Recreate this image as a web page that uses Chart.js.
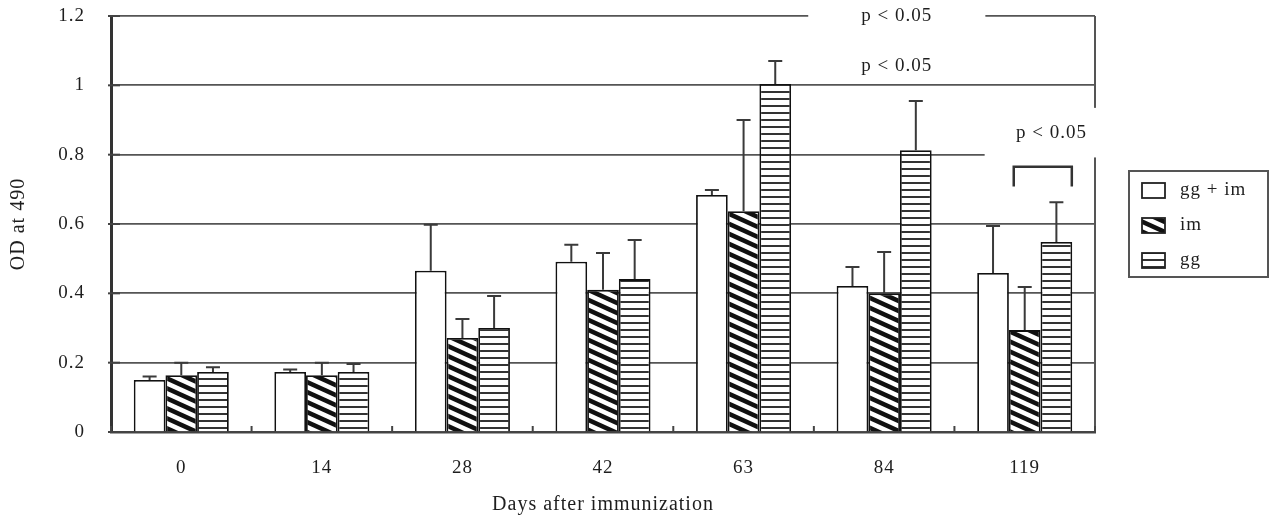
<!DOCTYPE html>
<html>
<head>
<meta charset="utf-8">
<script src="https://cdn.jsdelivr.net/npm/chart.js@4.4.1/dist/chart.umd.min.js"></script>
<style>
  html, body { margin: 0; padding: 0; background: #fff; }
</style>
</head>
<body>
<canvas id="odChart" width="1270" height="519"></canvas>
<script>
// data
const days = ["0", "14", "28", "42", "63", "84", "119"];
const seriesNames = ["gg + im", "im", "gg"];

const ggIm   = [0.150, 0.173, 0.465, 0.491, 0.684, 0.421, 0.459];
const ggImSd = [0.010, 0.007, 0.133, 0.049, 0.014, 0.055, 0.135];
const im     = [0.164, 0.164, 0.271, 0.410, 0.637, 0.400, 0.294];
const imSd   = [0.036, 0.036, 0.055, 0.106, 0.263, 0.119, 0.124];
const gg     = [0.173, 0.173, 0.300, 0.441, 1.004, 0.813, 0.548];
const ggSd   = [0.014, 0.023, 0.092, 0.113, 0.066, 0.142, 0.115];

const yTickLabels = ["0", "0.2", "0.4", "0.6", "0.8", "1", "1.2"];
const sigText = "p < 0.05";

const FONT = "'Liberation Serif', 'Times New Roman', serif";
const INK = "#1e1e1e";

// fill patterns
function hatch() {
  const c = document.createElement("canvas");
  c.width = 22; c.height = 10;
  const g = c.getContext("2d");
  g.fillStyle = "#fff";
  g.fillRect(0, 0, 22, 10);
  g.fillStyle = "#111";
  for (const dy of [-10, 0, 10]) {
    g.beginPath();
    g.moveTo(0, dy);
    g.lineTo(22, dy + 10);
    g.lineTo(22, dy + 15);
    g.lineTo(0, dy + 5);
    g.closePath();
    g.fill();
  }
  return g.createPattern(c, "repeat");
}

function hlines() {
  const c = document.createElement("canvas");
  c.width = 4; c.height = 7;
  const g = c.getContext("2d");
  g.fillStyle = "#fff";
  g.fillRect(0, 0, 4, 7);
  g.fillStyle = "#333";
  g.fillRect(0, 0, 4, 2);
  return g.createPattern(c, "repeat");
}

const fills = ["#fff", hatch(), hlines()];

// significance marks, placed by category index + fraction of category width
const notes = [
  { cat: 5, dx: 0.09, y: 1.2,   box: { w: 1.26, lo: 1.16, hi: 1.26 } },
  { cat: 5, dx: 0.09, y: 1.056, box: null },
  { cat: 6, dx: 0.19, y: 0.862, box: { w: 0.93, lo: 0.792, hi: 0.935, dx: 0.18 } }
];
const bracket = { cat: 6, from: -0.078, to: 0.335, top: 0.765, leg: 0.708 };

const spacing = {
  id: "spacing",
  beforeDraw(chart) { chart.ctx.letterSpacing = "1px"; }
};

const frame = {
  id: "frame",
  beforeDatasetsDraw(chart) {
    const { ctx, chartArea: a } = chart;
    ctx.save();
    ctx.strokeStyle = "#555";
    ctx.lineWidth = 2;
    ctx.beginPath();
    ctx.moveTo(a.right, a.top);
    ctx.lineTo(a.right, a.bottom);
    ctx.stroke();
    ctx.restore();
  },
  afterDatasetsDraw(chart) {
    const { ctx, chartArea: a } = chart;
    const y = chart.scales.y;
    ctx.save();
    // error bars (upper only)
    ctx.strokeStyle = "#3a3a3a";
    ctx.lineWidth = 2;
    chart.data.datasets.forEach((ds, di) => {
      chart.getDatasetMeta(di).data.forEach((bar, i) => {
        const yt = y.getPixelForValue(ds.data[i] + ds.sd[i]);
        ctx.beginPath();
        ctx.moveTo(bar.x, bar.y);
        ctx.lineTo(bar.x, yt);
        ctx.moveTo(bar.x - 7, yt);
        ctx.lineTo(bar.x + 7, yt);
        ctx.stroke();
      });
    });
    // category ticks pointing up, y ticks pointing in
    const n = chart.data.labels.length;
    const cw = a.width / n;
    ctx.strokeStyle = "#444";
    for (let i = 0; i <= n; i++) {
      const x = a.left + i * cw;
      ctx.beginPath();
      ctx.moveTo(x, a.bottom);
      ctx.lineTo(x, a.bottom - 6);
      ctx.stroke();
    }
    y.ticks.forEach(t => {
      const py = y.getPixelForValue(t.value);
      ctx.beginPath();
      ctx.moveTo(a.left - 3, py);
      ctx.lineTo(a.left + 9, py);
      ctx.stroke();
    });
    ctx.restore();
  },
  afterDraw(chart) {
    const { ctx, chartArea: a } = chart;
    const x = chart.scales.x, y = chart.scales.y;
    const cw = a.width / chart.data.labels.length;
    ctx.save();
    ctx.font = "19px " + FONT;
    ctx.textAlign = "center";
    ctx.textBaseline = "middle";
    notes.forEach(nt => {
      const cx = x.getPixelForValue(nt.cat);
      if (nt.box) {
        const bx = cx + (nt.box.dx ?? nt.dx) * cw;
        const top = y.getPixelForValue(nt.box.hi);
        const bot = y.getPixelForValue(nt.box.lo);
        ctx.fillStyle = "#fff";
        ctx.fillRect(bx - nt.box.w * cw / 2, top, nt.box.w * cw, bot - top);
      }
      ctx.fillStyle = INK;
      ctx.fillText(sigText, cx + nt.dx * cw, y.getPixelForValue(nt.y));
    });
    // bracket over day 119
    const bc = x.getPixelForValue(bracket.cat);
    const x1 = bc + bracket.from * cw, x2 = bc + bracket.to * cw;
    const yt = y.getPixelForValue(bracket.top), yl = y.getPixelForValue(bracket.leg);
    ctx.strokeStyle = "#333";
    ctx.lineWidth = 2.5;
    ctx.beginPath();
    ctx.moveTo(x1, yl);
    ctx.lineTo(x1, yt);
    ctx.lineTo(x2, yt);
    ctx.lineTo(x2, yl);
    ctx.stroke();

    // legend box
    const cy = (a.top + a.bottom) / 2;
    const lx = a.right + 34, ly = cy - 53;
    ctx.strokeStyle = "#555";
    ctx.lineWidth = 2;
    ctx.strokeRect(lx, ly, 139, 106);
    ctx.textAlign = "left";
    ctx.font = "19px " + FONT;
    chart.data.datasets.forEach((ds, i) => {
      const ry = cy - 34 + i * 35;
      ctx.fillStyle = ds.backgroundColor;
      ctx.fillRect(lx + 13, ry - 7, 23, 15);
      ctx.strokeStyle = "#222";
      ctx.lineWidth = 1.8;
      ctx.strokeRect(lx + 13, ry - 7, 23, 15);
      ctx.fillStyle = INK;
      ctx.fillText(ds.label, lx + 51, ry);
    });
    ctx.restore();
  }
};

const mk = (i, data, sd) => ({
  label: seriesNames[i],
  data,
  sd,
  backgroundColor: fills[i],
  borderColor: "#111",
  borderWidth: 1.8,
  borderSkipped: "bottom",
  categoryPercentage: 0.676,
  barPercentage: 1.0
});

new Chart(document.getElementById("odChart"), {
  type: "bar",
  data: {
    labels: days,
    datasets: [mk(0, ggIm, ggImSd), mk(1, im, imSd), mk(2, gg, ggSd)]
  },
  options: {
    responsive: false,
    animation: false,
    devicePixelRatio: 1,
    layout: { padding: { left: 0, right: 175, top: 16, bottom: 0 } },
    plugins: { legend: { display: false }, tooltip: { enabled: false } },
    scales: {
      x: {
        grid: { display: false, drawTicks: false },
        border: { display: true, color: "#444", width: 2.5 },
        ticks: { padding: 25, color: INK, font: { family: FONT, size: 19 } },
        title: {
          display: true, text: "Days after immunization", color: INK,
          font: { family: FONT, size: 20 }, padding: { top: 0, bottom: 2 }
        },
        afterFit(s) { s.height = 87; s.paddingLeft = 0; s.paddingRight = 0; }
      },
      y: {
        min: 0, max: 1.2,
        ticks: {
          stepSize: 0.2, padding: 26, color: INK,
          font: { family: FONT, size: 19 },
          callback: (v, i) => yTickLabels[i]
        },
        grid: { color: "#555", lineWidth: 1.7, drawTicks: false },
        border: { color: "#333", width: 3 },
        title: {
          display: true, text: "OD at 490", color: INK,
          font: { family: FONT, size: 20 }, padding: { top: 7, bottom: 0 }
        },
        afterFit(s) { s.width = 111; s.paddingTop = 0; s.paddingBottom = 0; }
      }
    }
  },
  plugins: [spacing, frame]
});
</script>
</body>
</html>
